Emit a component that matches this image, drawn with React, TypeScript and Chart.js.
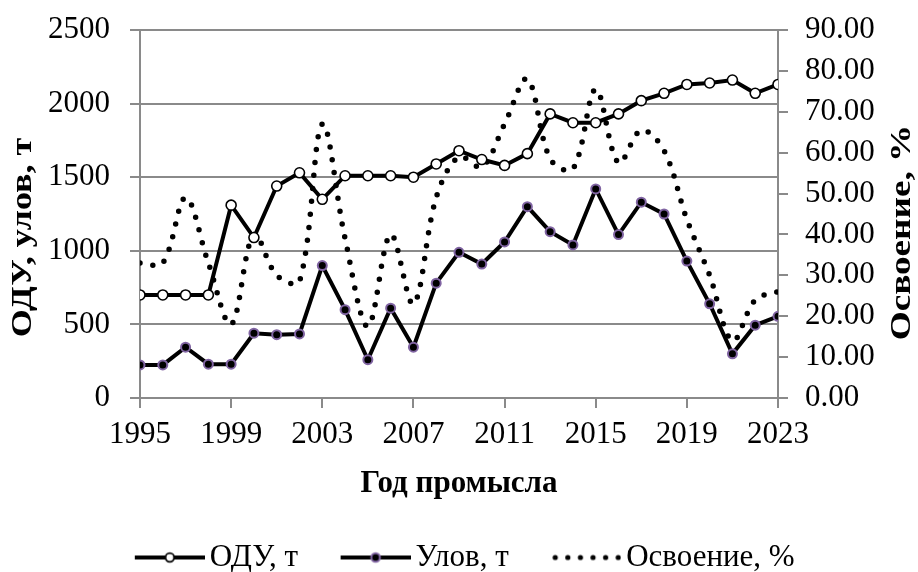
import React, { useEffect, useRef } from "react";
import { Chart, registerables } from "chart.js";

Chart.register(...registerables);

// ---------- data ----------
const years = [
  1995, 1996, 1997, 1998, 1999, 2000, 2001, 2002, 2003, 2004, 2005, 2006, 2007, 2008, 2009,
  2010, 2011, 2012, 2013, 2014, 2015, 2016, 2017, 2018, 2019, 2020, 2021, 2022, 2023,
];
const oduValues = [
  700, 700, 700, 700, 1310, 1090, 1440, 1530, 1350, 1510, 1510, 1510, 1500, 1590, 1680,
  1620, 1580, 1660, 1930, 1870, 1870, 1930, 2020, 2070, 2130, 2140, 2160, 2070, 2130,
];
const catchValues = [
  225, 225, 345, 230, 230, 440, 430, 435, 900, 600, 260, 610, 345, 780, 990,
  910, 1060, 1300, 1130, 1040, 1420, 1110, 1330, 1250, 930, 640, 300, 495, 555,
];
const utilizationValues = [
  33, 33, 49, 33, 18, 40, 30, 28.5, 67, 39, 17.5, 40, 23, 49, 59,
  56.5, 67, 78, 58.5, 56, 75.5, 57.5, 65.5, 60.5, 43.7, 30, 14, 24, 26,
];
const xTickYears = [1995, 1999, 2003, 2007, 2011, 2015, 2019, 2023];
const seriesLabels = ["ОДУ, т", "Улов, т", "Освоение, %"];
const leftAxisTitle = "ОДУ, улов, т";
const rightAxisTitle = "Освоение, %";
const xAxisTitle = "Год промысла";

// ---------- styles ----------
const FONT = "'Liberation Serif', 'Times New Roman', serif";
const GRID = "#8a8a8a";
const PURPLE = "#8064A2";
const ICON_BOX = 92;
const ICON_W = ICON_BOX + 21;

function makeLegendIcon(kind: "open" | "filled" | "dots"): HTMLCanvasElement {
  const c = document.createElement("canvas");
  c.width = ICON_W;
  c.height = 16;
  const g = c.getContext("2d")!;
  const x1 = ICON_W;
  const x0 = ICON_W - 70;
  const cy = 8;
  if (kind === "dots") {
    g.fillStyle = "#000";
    for (let i = 0; i < 6; i++) {
      g.beginPath();
      g.arc(x0 + 4 + i * 12.6, cy, 2.6, 0, Math.PI * 2);
      g.fill();
    }
  } else {
    g.strokeStyle = "#000";
    g.lineWidth = 4;
    g.beginPath();
    g.moveTo(x0, cy);
    g.lineTo(x1, cy);
    g.stroke();
    const mx = (x0 + x1) / 2;
    g.beginPath();
    g.arc(mx, cy, 4.3, 0, Math.PI * 2);
    if (kind === "open") {
      g.fillStyle = "#fff";
      g.fill();
      g.lineWidth = 1.8;
      g.strokeStyle = "#000";
      g.stroke();
    } else {
      g.fillStyle = "#000";
      g.fill();
      g.lineWidth = 2;
      g.strokeStyle = PURPLE;
      g.stroke();
    }
  }
  return c;
}

const yTitlesPlugin = {
  id: "yTitles",
  afterDraw(chart: any) {
    const { ctx, chartArea } = chart;
    const mid = (chartArea.top + chartArea.bottom) / 2;
    ctx.save();
    ctx.font = `bold 30px ${FONT}`;
    ctx.fillStyle = "#000";
    ctx.textAlign = "center";
    ctx.textBaseline = "middle";
    ctx.save();
    ctx.translate(chartArea.left - 117, mid + 23.5);
    ctx.rotate(-Math.PI / 2);
    ctx.scale(1.2, 1);
    ctx.fillText(leftAxisTitle, 0, 0);
    ctx.restore();
    ctx.save();
    ctx.translate(chartArea.right + 124, mid + 18.5);
    ctx.rotate(-Math.PI / 2);
    ctx.scale(1.24, 1);
    ctx.fillText(rightAxisTitle, 0, 0);
    ctx.restore();
    ctx.restore();
  },
};

const trimVerticalPadding = (s: any) => {
  s.paddingTop = 16;
  s.paddingBottom = 16;
};

export default function App() {
  const canvasRef = useRef<HTMLCanvasElement | null>(null);

  useEffect(() => {
    if (!canvasRef.current) return;
    const icons = [makeLegendIcon("open"), makeLegendIcon("filled"), makeLegendIcon("dots")];
    const chart = new Chart(canvasRef.current, {
      type: "line",
      data: {
        datasets: [
          {
            label: seriesLabels[0],
            data: years.map((yr, i) => ({ x: yr, y: oduValues[i] })),
            yAxisID: "y",
            borderColor: "#000",
            borderWidth: 4,
            pointStyle: "circle",
            pointRadius: 5,
            pointBorderWidth: 1.6,
            pointBorderColor: "#000",
            pointBackgroundColor: "#fff",
            tension: 0,
          },
          {
            label: seriesLabels[1],
            data: years.map((yr, i) => ({ x: yr, y: catchValues[i] })),
            yAxisID: "y",
            borderColor: "#000",
            borderWidth: 4,
            pointStyle: "circle",
            pointRadius: 4.5,
            pointBorderWidth: 2,
            pointBorderColor: PURPLE,
            pointBackgroundColor: "#000",
            tension: 0,
          },
          {
            label: seriesLabels[2],
            data: years.map((yr, i) => ({ x: yr, y: utilizationValues[i] })),
            yAxisID: "y1",
            borderColor: "#000",
            borderWidth: 5.5,
            borderDash: [0, 13],
            borderCapStyle: "round",
            pointRadius: 0,
            tension: 0.35,
          },
        ],
      },
      options: {
        responsive: false,
        animation: false,
        events: [],
        layout: { padding: { top: 30, left: 0, right: 21, bottom: -11 } },
        plugins: {
          tooltip: { enabled: false },
          title: { display: false },
          legend: {
            position: "bottom",
            labels: {
              usePointStyle: true,
              pointStyleWidth: ICON_BOX,
              boxHeight: 16,
              padding: 10,
              color: "#000",
              font: { family: FONT, size: 31 },
              generateLabels: (c: any) =>
                c.data.datasets.map((ds: any, i: number) => ({
                  text: ds.label,
                  pointStyle: icons[i],
                  fillStyle: "#000",
                  strokeStyle: "#000",
                  lineWidth: 0,
                  hidden: false,
                  datasetIndex: i,
                  fontColor: "#000",
                })),
            },
          },
        },
        scales: {
          x: {
            type: "linear",
            min: 1995,
            max: 2023,
            afterBuildTicks: (s: any) => {
              s.ticks = xTickYears.map((v) => ({ value: v }));
            },
            afterFit: (s: any) => {
              s.height = 134;
            },
            ticks: {
              autoSkip: false,
              maxRotation: 0,
              padding: 8,
              color: "#000",
              font: { family: FONT, size: 31 },
              callback: (v: any) => String(v),
            },
            grid: {
              drawOnChartArea: false,
              drawTicks: true,
              tickLength: 10,
              color: GRID,
              lineWidth: 2,
            },
            border: { display: true, color: GRID, width: 2 },
            title: {
              display: true,
              text: xAxisTitle,
              color: "#000",
              font: { family: FONT, size: 31, weight: "bold" },
              padding: { top: 0, bottom: 29 },
            },
          },
          y: {
            type: "linear",
            position: "left",
            min: 0,
            max: 2500,
            afterFit: (s: any) => {
              s.width = 140;
              trimVerticalPadding(s);
            },
            ticks: {
              stepSize: 500,
              autoSkip: false,
              padding: 20,
              color: "#000",
              font: { family: FONT, size: 31 },
              callback: (v: any) => String(v),
            },
            grid: {
              drawOnChartArea: true,
              drawTicks: true,
              tickLength: 10,
              color: GRID,
              lineWidth: 2,
            },
            border: { display: true, color: GRID, width: 2 },
          },
          y1: {
            type: "linear",
            position: "right",
            min: 0,
            max: 90,
            afterFit: (s: any) => {
              s.width = 119;
              trimVerticalPadding(s);
            },
            ticks: {
              stepSize: 10,
              autoSkip: false,
              padding: 17,
              color: "#000",
              font: { family: FONT, size: 31 },
              callback: (v: any) => Number(v).toFixed(2),
            },
            grid: {
              drawOnChartArea: false,
              drawTicks: true,
              tickLength: 10,
              color: GRID,
              lineWidth: 2,
            },
            border: { display: true, color: GRID, width: 2 },
          },
        },
      },
      plugins: [yTitlesPlugin],
    });
    return () => chart.destroy();
  }, []);

  return (
    <div style={{ position: "fixed", left: 0, top: 0, width: 918, height: 572, background: "#fff" }}>
      <canvas ref={canvasRef} width={918} height={572} style={{ display: "block" }} />
    </div>
  );
}
